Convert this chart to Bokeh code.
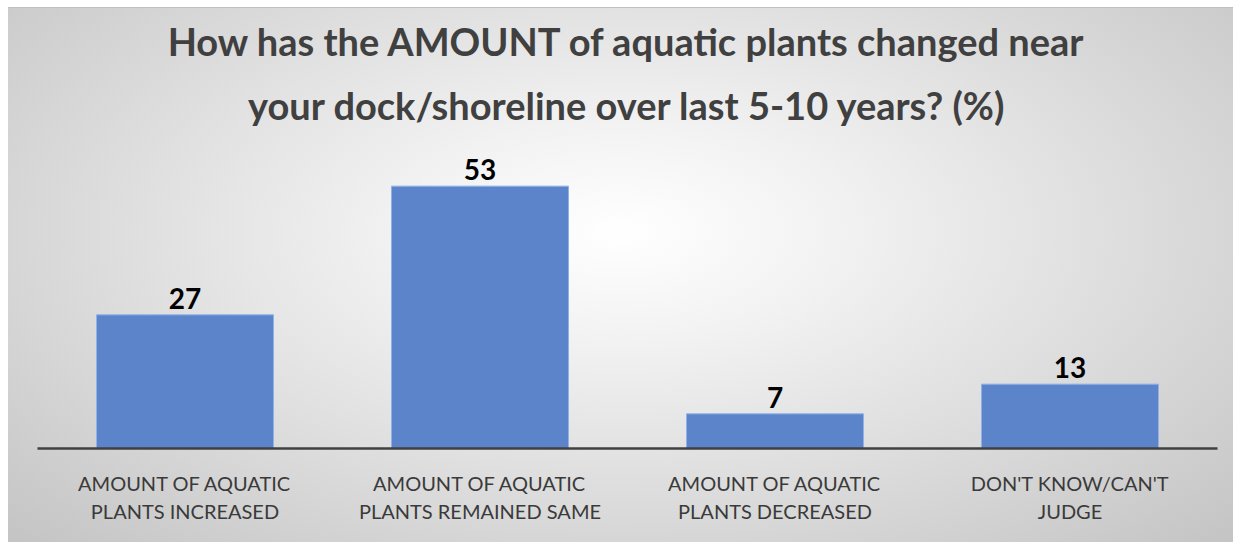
from bokeh.plotting import figure
from bokeh.models import ColumnDataSource, LabelSet, Title, Range1d
from bokeh.core.properties import value
from bokeh.embed import file_html
from bokeh.resources import INLINE

title_lines = ["How has the AMOUNT of aquatic plants changed near",
               "your dock/shoreline over last 5-10 years? (%)"]
categories = ["AMOUNT OF AQUATIC\nPLANTS INCREASED",
              "AMOUNT OF AQUATIC\nPLANTS REMAINED SAME",
              "AMOUNT OF AQUATIC\nPLANTS DECREASED",
              "DON'T KNOW/CAN'T\nJUDGE"]
values = [27, 53, 7, 13]

FONT = "Lato"
src = ColumnDataSource(dict(cat=categories, val=values, lab=[str(v) for v in values]))

p = figure(x_range=categories, y_range=Range1d(0, 60), width=1225, height=535,
           output_backend="svg", toolbar_location=None,
           min_border_left=29, min_border_right=16, min_border_bottom=95, min_border_top=143)
p.styles = {"background-image": "radial-gradient(ellipse farthest-corner at 50% 42%, #ffffff 0%, #f2f2f2 25%, #c4c4c4 100%)",
            "margin-left": "8px", "margin-top": "7px",
            "border-top": "1px solid #c0c0c0"}
p.background_fill_alpha = 0
p.border_fill_alpha = 0
p.outline_line_color = None

p.title = Title(text=title_lines[0], align="center", text_font=FONT, text_font_size="38px",
                text_font_style="bold", text_color="#404040", standoff=-16)
p.add_layout(Title(text=title_lines[1], align="center", text_font=FONT, text_font_size="38px",
                   text_font_style="bold", text_color="#404040", standoff=48), "above")

p.vbar(x="cat", top="val", width=0.6, source=src, fill_color="#5b84ca",
       line_color="#8fb0e8", line_width=1)

p.add_layout(LabelSet(x="cat", y="val", text="lab", source=src, text_align="center",
                      text_baseline="alphabetic", y_offset=6, text_font=value(FONT),
                      text_font_size=value("28px"), text_font_style="bold", text_color="#000000"))

p.yaxis.visible = False
p.ygrid.grid_line_color = None
p.xgrid.grid_line_color = None
p.xaxis.axis_line_color = "#404040"
p.xaxis.axis_line_width = 2.5
p.xaxis.major_tick_line_color = None
p.xaxis.minor_tick_line_color = None
p.xaxis.major_label_standoff = 16
p.xaxis.major_label_text_font = FONT
p.xaxis.major_label_text_font_size = "20px"
p.xaxis.major_label_text_color = "#3a3a3a"
p.x_range.range_padding = 0

open("out.html", "w").write(file_html(p, INLINE))
